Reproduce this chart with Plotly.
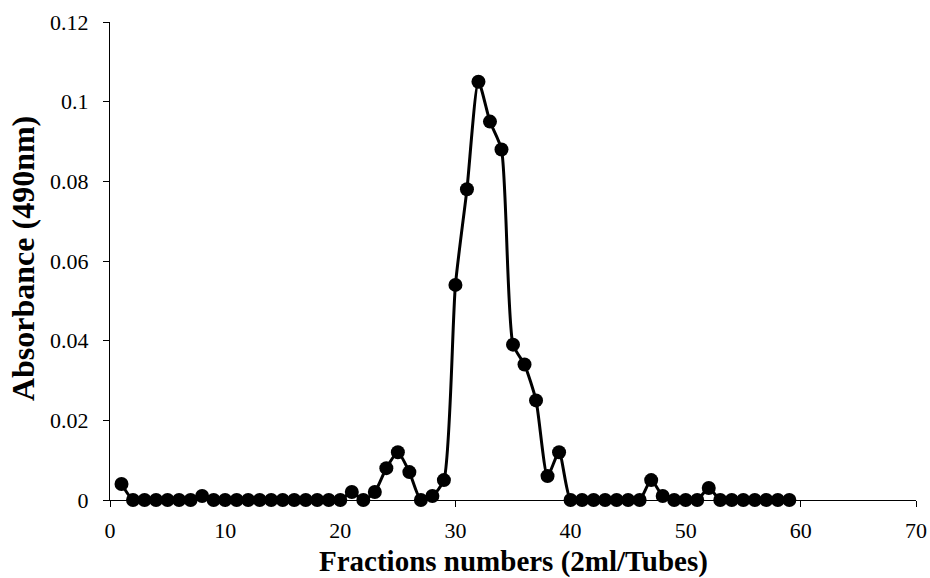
import plotly.graph_objects as go

fractions = list(range(1, 60))
absorbance = [
    0.004, 0, 0, 0, 0, 0, 0, 0.001, 0, 0,          # 1-10
    0, 0, 0, 0, 0, 0, 0, 0, 0, 0,                  # 11-20
    0.002, 0, 0.002, 0.008, 0.012, 0.007, 0, 0.001, 0.005, 0.054,  # 21-30
    0.078, 0.105, 0.095, 0.088, 0.039, 0.034, 0.025, 0.006, 0.012, 0,  # 31-40
    0, 0, 0, 0, 0, 0, 0.005, 0.001, 0, 0,          # 41-50
    0, 0.003, 0, 0, 0, 0, 0, 0, 0,                 # 51-59
]
x_ticks = [0, 10, 20, 30, 40, 50, 60, 70]
y_ticks = [0, 0.02, 0.04, 0.06, 0.08, 0.1, 0.12]
y_tick_labels = ["0", "0.02", "0.04", "0.06", "0.08", "0.1", "0.12"]
x_title = "Fractions numbers (2ml/Tubes)"
y_title = "Absorbance (490nm)"

fig = go.Figure()
fig.add_trace(go.Scatter(
    x=fractions, y=absorbance, mode="lines+markers",
    line=dict(color="black", width=3, shape="spline", smoothing=0.6),
    marker=dict(color="black", size=14),
    showlegend=False, cliponaxis=False,
))

font_family = "Liberation Serif, 'Times New Roman', serif"
fig.update_layout(
    width=930, height=578,
    margin=dict(l=110, r=14, t=22, b=78),
    paper_bgcolor="white", plot_bgcolor="white",
    font=dict(family=font_family, color="black", size=22),
    xaxis=dict(
        range=[0, 70], tickvals=x_ticks, ticks="outside", ticklen=6,
        tickcolor="black", showline=True, linecolor="black", linewidth=1.3,
        showgrid=False, zeroline=False, automargin=False,
        tickfont=dict(family=font_family, size=22), ticklabelstandoff=4,
    ),
    yaxis=dict(
        range=[0, 0.12], tickvals=y_ticks, ticktext=y_tick_labels, ticks="outside", ticklen=6,
        tickcolor="black", showline=True, linecolor="black", linewidth=1.3,
        showgrid=False, zeroline=False, automargin=False,
        tickfont=dict(family=font_family, size=22), ticklabelstandoff=10,
    ),
    annotations=[
        dict(text="<b>" + x_title + "</b>", xref="paper", yref="paper",
             x=0.5, y=-0.128, xanchor="center", yanchor="middle", showarrow=False,
             font=dict(family=font_family, size=29, color="black")),
        dict(text="<b>" + y_title + "</b>", xref="paper", yref="paper",
             x=-0.108, y=0.506, xanchor="center", yanchor="middle", showarrow=False,
             textangle=-90, font=dict(family=font_family, size=32, color="black")),
    ],
)
fig.write_html("out.html")
